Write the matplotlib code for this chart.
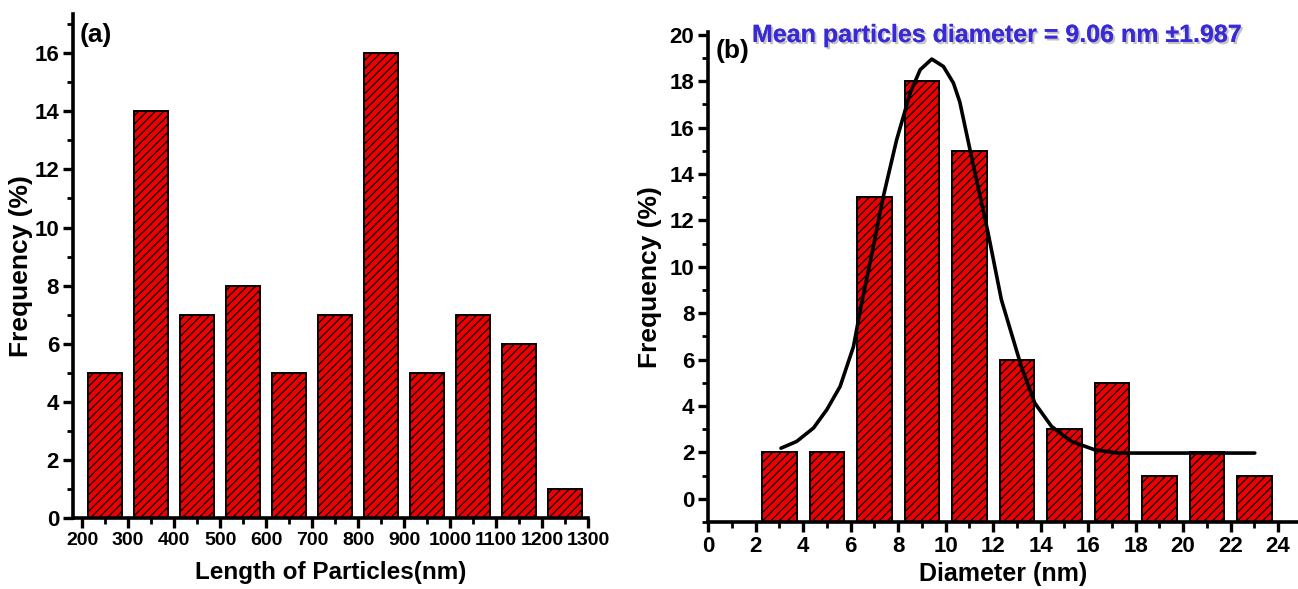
import numpy as np
import matplotlib
matplotlib.use("Agg")
import matplotlib.pyplot as plt
import matplotlib.patheffects as pe
from matplotlib.ticker import MultipleLocator

# (a) particle length histogram
length_centers = [250, 350, 450, 550, 650, 750, 850, 950, 1050, 1150, 1250]
length_freq = [5, 14, 7, 8, 5, 7, 16, 5, 7, 6, 1]

# (b) particle diameter histogram
diam_centers = [3, 5, 7, 9, 11, 13, 15, 17, 19, 21, 23]
diam_freq = [2, 2, 13, 18, 15, 6, 3, 5, 1, 2, 1]

# fitted distribution curve for (b)
fit_x = [3.07, 3.73, 4.44, 5.00, 5.56, 6.12, 6.47, 6.96, 7.38, 7.94, 8.51, 8.93,
         9.42, 9.91, 10.33, 10.60, 11.09, 11.79, 12.35, 12.77, 13.19, 13.76,
         14.46, 15.30, 16.28, 17.26, 18.95, 23.02]
fit_y = [2.18, 2.47, 3.05, 3.84, 4.84, 6.55, 8.45, 10.87, 13.03, 15.47, 17.49, 18.49,
         18.95, 18.63, 17.92, 17.10, 14.75, 11.46, 8.58, 7.14, 5.70, 4.12,
         3.12, 2.47, 2.11, 1.97, 1.97, 1.97]

mean_label = "Mean particles diameter = 9.06 nm \u00b11.987"

font = ["Liberation Sans", "DejaVu Sans"]
plt.rcParams["hatch.linewidth"] = 0.9

fig = plt.figure(figsize=(12.98, 5.89), dpi=100)
ax1 = fig.add_axes([0.0562, 0.1205, 0.3968, 0.8557])
ax2 = fig.add_axes([0.5455, 0.1138, 0.4545, 0.8320])

bar_style = dict(color="#ee0000", edgecolor="black", linewidth=1.4, hatch="////")

ax1.bar(length_centers, length_freq, width=73, **bar_style)
ax1.set_xlim(180, 1300)
ax1.set_ylim(0, 17.35)
ax1.xaxis.set_minor_locator(MultipleLocator(50))
ax1.yaxis.set_major_locator(MultipleLocator(2))
ax1.yaxis.set_minor_locator(MultipleLocator(1))
ax1.set_xticks(range(200, 1301, 100))

y2_floor = -1
ax2.bar(diam_centers, np.array(diam_freq) - y2_floor, bottom=y2_floor, width=1.45, **bar_style)
ax2.plot(fit_x, fit_y, color="black", linewidth=2.6, solid_capstyle="round")
ax2.set_xlim(0, 24.84)
ax2.set_ylim(y2_floor, 20.12)
ax2.set_xticks(range(0, 25, 2))
ax2.set_yticks(range(0, 21, 2))
ax2.xaxis.set_minor_locator(MultipleLocator(1))
ax2.yaxis.set_minor_locator(MultipleLocator(1))

for ax in (ax1, ax2):
    for side in ("top", "right"):
        ax.spines[side].set_visible(False)
    for side in ("left", "bottom"):
        ax.spines[side].set_linewidth(2.6)
    ax.tick_params(which="major", direction="out", length=7, width=2.4, pad=3)
    ax.tick_params(which="minor", direction="out", length=4, width=2.0)
    for lab in ax.get_xticklabels() + ax.get_yticklabels():
        lab.set_family(font)
        lab.set_fontweight("bold")
        lab.set_fontsize(16)

# long length labels sit close together, so they get a smaller size
for lab in ax1.get_xticklabels():
    lab.set_fontsize(14)

ax1.set_xlabel("Length of Particles(nm)", family=font, fontweight="bold", fontsize=17.5, labelpad=9)
ax1.set_ylabel("Frequency (%)", family=font, fontweight="bold", fontsize=19, labelpad=1)
ax2.set_xlabel("Diameter (nm)", family=font, fontweight="bold", fontsize=18, labelpad=4)
ax2.set_ylabel("Frequency (%)", family=font, fontweight="bold", fontsize=19, labelpad=5)

ax1.text(0.045, 0.958, "(a)", transform=ax1.transAxes, ha="center", va="center",
         family=font, fontweight="bold", fontsize=19)
ax2.text(0.042, 0.962, "(b)", transform=ax2.transAxes, ha="center", va="center",
         family=font, fontweight="bold", fontsize=19)

fig.text(997 / 1298, 1 - 35 / 589, mean_label, ha="center", va="center",
         family=font, fontweight="bold", fontsize=18, color="#3a2ad6",
         path_effects=[pe.withSimplePatchShadow(offset=(1.5, -1.5), shadow_rgbFace="#888888", alpha=0.5),
                       pe.Normal()])

fig.savefig("out.png", dpi=100)
